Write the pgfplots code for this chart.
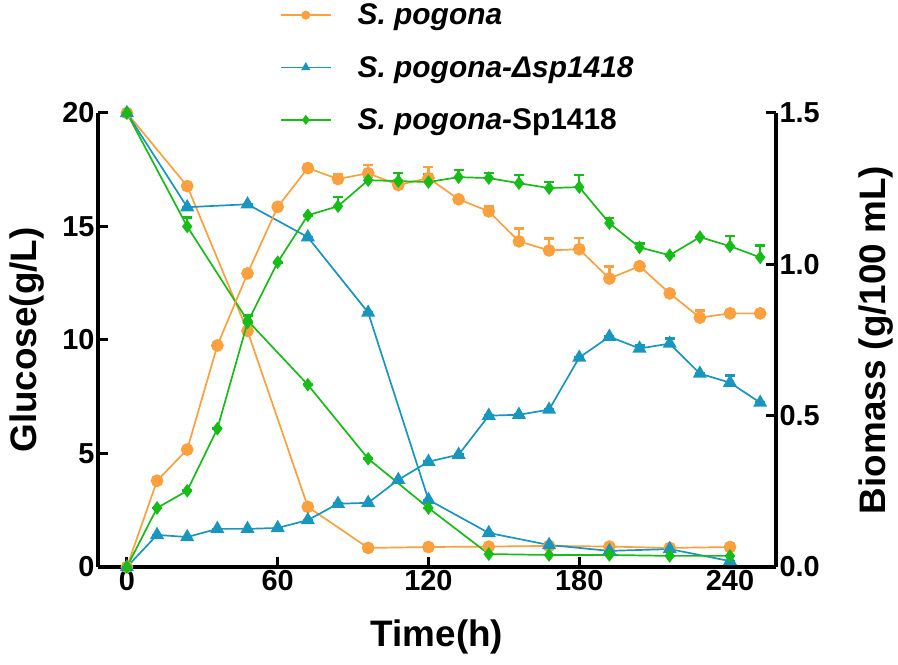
\documentclass[border=0pt]{standalone}
\usepackage{fontspec}
\setmainfont{Liberation Sans}
\usepackage{pgfplots}
\usepackage{pgfplotstable}
\pgfplotsset{compat=1.18}
\definecolor{cO}{RGB}{250,160,62}
\definecolor{cB}{RGB}{24,150,190}
\definecolor{cG}{RGB}{24,188,24}

% Glucose (g/L)
\pgfplotstableread{
t g e
0 20.0 0
24 16.78 0
48 10.40 0
72 2.65 0
96 0.84 0
120 0.88 0
144 0.90 0
168 0.93 0
192 0.90 0
216 0.84 0
240 0.88 0
}\glcO
\pgfplotstableread{
t g e
0 20.0 0
24 15.85 0
48 15.98 0
72 14.53 0
96 11.21 0
120 2.96 0
144 1.50 0
168 0.97 0
192 0.71 0
216 0.79 0
240 0.26 0
}\glcB
\pgfplotstableread{
t g e
0 20.0 0
24 15.00 0.40
48 10.86 0.22
72 8.03 0
96 4.77 0
120 2.60 0
144 0.57 0
168 0.53 0
192 0.53 0
216 0.49 0
240 0.49 0
}\glcG

% Biomass (g/100 mL)
\pgfplotstableread{
t b e
0 0.000 0
12 0.285 0
24 0.388 0
36 0.732 0
48 0.970 0
60 1.190 0
72 1.318 0
84 1.282 0.015
96 1.301 0.027
108 1.262 0.015
120 1.285 0.036
132 1.215 0
144 1.175 0.017
156 1.076 0.043
168 1.046 0.040
180 1.050 0.037
192 0.953 0.040
204 0.994 0
216 0.904 0
228 0.824 0.023
240 0.838 0
252 0.838 0
}\bioO
\pgfplotstableread{
t b e
0 0.000 0
12 0.106 0
24 0.099 0
36 0.126 0
48 0.126 0
60 0.129 0
72 0.155 0
84 0.209 0
96 0.212 0
108 0.288 0
120 0.348 0
132 0.371 0
144 0.500 0
156 0.503 0
168 0.520 0
180 0.692 0
192 0.761 0
204 0.722 0.010
216 0.738 0.017
228 0.639 0
240 0.609 0.023
252 0.543 0
}\bioB
\pgfplotstableread{
t b e
0 0.000 0
12 0.195 0
24 0.252 0
36 0.457 0
48 0.808 0
60 1.007 0
72 1.162 0
84 1.192 0.030
96 1.278 0.010
108 1.275 0.027
120 1.272 0.027
132 1.288 0.023
144 1.285 0.017
156 1.268 0.027
168 1.252 0.020
180 1.255 0.040
192 1.136 0.017
204 1.056 0.013
216 1.030 0
228 1.090 0
240 1.060 0.033
252 1.023 0.040
}\bioG

\pgfplotsset{
  common/.style={
    width=678bp, height=454bp, scale only axis,
    at={(98bp,98bp)}, anchor=south west,
    xmin=-11.5, xmax=258.3,
    tick align=inside,
    major tick length=10bp,
    every tick/.style={line width=3bp, black},
    axis line style={line width=3.5bp, -},
    tick label style={font=\fontsize{29}{32}\selectfont\bfseries},
    label style={font=\fontsize{37}{40}\selectfont\bfseries},
    clip=false,
    every axis plot/.append style={line width=1.7bp},
    error bars/y dir=plus, error bars/y explicit,
    error bars/error bar style={line width=2.4bp},
    error bars/error mark options={rotate=90, mark size=5bp, line width=2.6bp},
  },
  mO/.style={color=cO, mark=*, mark size=5.5bp, mark options={solid, fill=cO, draw=cO}},
  mB/.style={color=cB, mark=triangle*, mark size=6.5bp, mark options={solid, fill=cB, draw=cB}},
  mG/.style={color=cG, mark=diamond*, mark size=5.5bp, mark options={solid, fill=cG, draw=cG}},
}

\begin{document}
\begin{tikzpicture}
\path[use as bounding box] (0,0) rectangle (898bp,665bp);
\begin{axis}[common,
  axis x line*=bottom, axis y line*=left,
  ymin=0, ymax=20,
  xtick={0,60,120,180,240}, xticklabels={0,60,120,180,240},
  ytick={0,5,10,15,20}, yticklabels={0,5,10,15,20},
  xlabel={Time(h)}, ylabel={Glucose(g/L)},
  xlabel style={at={(axis description cs:0.5,-0.155)}, anchor=center},
  ylabel style={at={(axis description cs:-0.105,0.5)}, anchor=center, rotate=0},
  legend style={at={(axis description cs:0.268,1.245)}, anchor=north west,
    draw=none, fill=none, font=\fontsize{30}{34}\selectfont\bfseries\itshape,
    row sep=26bp, inner sep=0pt, cells={anchor=west}},
  legend image code/.code={\draw[line width=1.8bp, mark size=3.6bp, mark repeat=2, mark phase=2] plot coordinates {(0bp,0bp) (25bp,0bp) (50bp,0bp)};},
]
\addplot[mO] table[x=t, y=g, y error=e] {\glcO};
\addlegendentry{\hspace*{24bp}S. pogona}
\addplot[mB] table[x=t, y=g, y error=e] {\glcB};
\addlegendentry{\hspace*{24bp}S. pogona-Δsp1418}
\addplot[mG] table[x=t, y=g, y error=e] {\glcG};
\addlegendentry{\hspace*{24bp}S. pogona-{\upshape Sp1418}}
\end{axis}
\begin{axis}[common,
  axis x line=none, axis y line*=right,
  ymin=0, ymax=1.5,
  ytick={0,0.5,1.0,1.5}, yticklabels={0.0,0.5,1.0,1.5},
  ylabel={Biomass (g/100 mL)},
  ylabel style={at={(axis description cs:1.148,0.5)}, anchor=center, rotate=0},
]
\addplot[mO] table[x=t, y=b, y error=e] {\bioO};
\addplot[mB] table[x=t, y=b, y error=e] {\bioB};
\addplot[mG] table[x=t, y=b, y error=e] {\bioG};
\end{axis}
\end{tikzpicture}
\end{document}
